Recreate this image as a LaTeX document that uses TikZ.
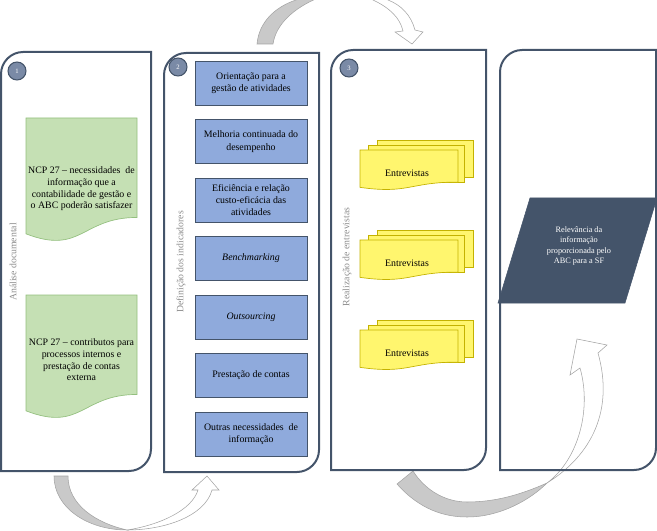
\documentclass[tikz,border=0pt]{standalone}
\usepackage{fontspec}
\setmainfont{Liberation Serif}
\definecolor{slate}{HTML}{44546A}
\definecolor{dotfill}{HTML}{7A8AA6}
\definecolor{docgreen}{HTML}{C5E0B4}
\definecolor{docgreenline}{HTML}{93BF7E}
\definecolor{boxblue}{HTML}{8FAADC}
\definecolor{docyellow}{HTML}{FFF66E}
\definecolor{docyellowline}{HTML}{C4B200}
\definecolor{arrowgrey}{HTML}{C9C9C9}
\definecolor{arrowline}{HTML}{A3A3A3}
\definecolor{labelgrey}{HTML}{8C8C8C}
\newcommand{\docpath}[4]{(#1,#2) -- (#1+#3,#2) -- (#1+#3,#2+0.802*#4)
  .. controls (#1+0.5*#3,#2+0.802*#4) and (#1+0.5*#3,#2+1.107*#4) .. (#1,#2+0.934*#4) -- cycle}
\begin{document}
\begin{tikzpicture}[x=0.75pt,y=-0.75pt,
    panel/.style={draw=slate, line width=1.5pt},
    greyband/.style={fill=arrowgrey, draw=arrowline, line width=0.4pt},
    whiteband/.style={fill=white, draw=arrowline, line width=0.4pt},
    stepdot/.style={circle, draw=slate, line width=0.8pt, fill=dotfill, minimum size=13.5pt, inner sep=0pt,
      text=white, font=\fontsize{5}{5}\selectfont},
    vlabel/.style={rotate=90, text=labelgrey, font=\fontsize{7.3}{9}\selectfont},
    greendoc/.style={fill=docgreen, draw=docgreenline, line width=0.5pt},
    yellowdoc/.style={fill=docyellow, draw=docyellowline, line width=0.5pt},
    doctext/.style={align=center, font=\fontsize{7.4}{8.8}\selectfont},
    indbox/.style={draw=slate, line width=0.6pt, fill=boxblue, minimum width=84pt, minimum height=33pt,
      align=center, font=\fontsize{7.4}{9.2}\selectfont}]
\clip (0,0) rectangle (657,531);
% arrows between the stages
\draw[greyband] (54,476) .. controls (54,508) and (88,530) .. (127,530)
  .. controls (96,523) and (68,505) .. (68,476) -- cycle;
\draw[whiteband] (127,530) .. controls (165,530) and (205,516) .. (212,490) -- (219,490) -- (207,476)
  -- (192,490) -- (198,490) .. controls (192,510) and (160,525) .. (127,530) -- cycle;
\draw[greyband] (257,44) .. controls (259,22) and (275,7) .. (296,0) -- (320,-10) -- (318,-2)
  .. controls (294,8) and (276,24) .. (273,44) -- cycle;
\draw[whiteband] (372,-5) -- (373,0) .. controls (390,8) and (400,18) .. (403,31) -- (395,32) -- (412,44)
  -- (423,32) -- (415,30) .. controls (411,15) and (401,5) .. (388,0) -- (386,-5) -- cycle;
\draw[greyband] (397,484) .. controls (420,510) and (445,517) .. (467,517)
  .. controls (500,517) and (530,500) .. (547,483)
  .. controls (520,495) and (495,502) .. (467,502)
  .. controls (445,502) and (425,490) .. (413,471) -- cycle;
\draw[whiteband] (547,483) .. controls (592,455) and (614,410) .. (598,353) -- (607,345) -- (577,339)
  -- (570,375) -- (580,368) .. controls (592,410) and (578,460) .. (547,483) -- cycle;
% stages
\foreach \xa/\ya/\xb/\yb in {1/52/151/471, 164/53/319/472, 331/50/486/470, 500/50/656/470}
  \draw[panel] (\xa,\yb) -- (\xa,\ya+22) .. controls (\xa,\ya+10) and (\xa+10,\ya) .. (\xa+22,\ya)
    -- (\xb,\ya) -- (\xb,\yb-22) .. controls (\xb,\yb-10) and (\xb-10,\yb) .. (\xb-22,\yb) -- cycle;
\foreach \x/\y/\n in {17/71/1, 178/67/2, 349/68/3}
  \node[stepdot] (step\n) at (\x,\y) {\n};
\node[vlabel] (lab1) at (13,262) {Análise documental};
\node[vlabel] (lab2) at (181,262) {Definição dos indicadores};
\node[vlabel] (lab3) at (347,257) {Realização de entrevistas};
% 1
\draw[greendoc] \docpath{26}{118}{111}{124};
\node[doctext] (ncp1) at (81.5,189) {NCP 27 – necessidades\ \ de\\informação que a\\contabilidade de gestão e\\o ABC poderão satisfazer};
\draw[greendoc] \docpath{26}{295}{111}{124};
\node[doctext] (ncp2) at (81.5,360) {NCP 27 – contributos para\\processos internos e\\prestação de contas\\externa};
% 2
\foreach \t [count=\i from 0] in {{Orientação para a\\gestão de atividades},
    {Melhoria continuada do\\desempenho}, {Eficiência e relação\\custo-eficácia das\\atividades},
    {\textit{Benchmarking}}, {\textit{Outsourcing}}, {Prestação de contas},
    {Outras necessidades\ \ de\\informação}}
  \node[indbox] (ind\i) at (251,83+58.5*\i) {\t};
% 3
\foreach \y [count=\i] in {140,230,320} {
  \draw[yellowdoc] (377,\y) rectangle (473,\y+37);
  \draw[yellowdoc] (368,\y+5) rectangle (464,\y+42);
  \draw[yellowdoc] \docpath{360}{\y+10}{98}{40};
  \node[doctext] (int\i) at (407,\y+33) {Entrevistas};
}
% 4
\draw[fill=slate, draw=slate] (530,198) -- (657,198) -- (625,303) -- (498,303) -- cycle;
\node[align=center, text=white, font=\fontsize{6.2}{7.6}\selectfont] (relev) at (579,246)
  {Relevância da\\informação\\proporcionada pelo\\ABC para a SF};
\end{tikzpicture}
\end{document}
